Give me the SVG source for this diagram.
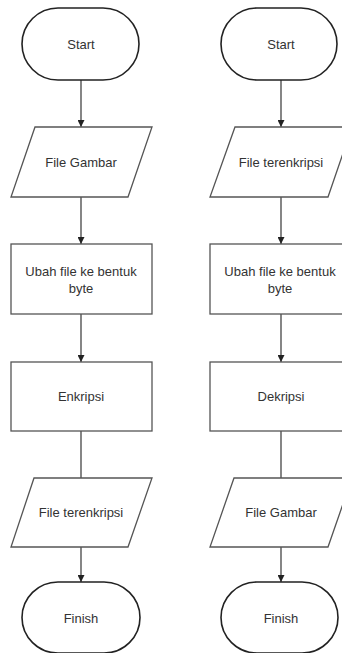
<svg xmlns="http://www.w3.org/2000/svg" width="342" height="653" viewBox="0 0 342 653">
<style>
.term{fill:#fff;stroke:#222;stroke-width:1.6}
.box{fill:#fff;stroke:#555;stroke-width:1.3}
.t{font-family:"Liberation Sans",Arial,sans-serif;font-size:13px;fill:#333;text-anchor:middle;dominant-baseline:central}
.c{stroke:#444;stroke-width:1.3;fill:none}
</style>
<defs>
<marker id="ah" viewBox="0 0 10 10" refX="10" refY="5" markerWidth="7" markerHeight="7" markerUnits="userSpaceOnUse" orient="auto">
<path d="M0,0 L10,5 L0,10 z" fill="#222"/>
</marker>
</defs>
<rect width="342" height="653" fill="#fff"/>
<g id="connectors">
<line class="c" x1="81" y1="80" x2="81" y2="127" marker-end="url(#ah)"/>
<line class="c" x1="81" y1="197" x2="81" y2="244" marker-end="url(#ah)"/>
<line class="c" x1="81" y1="314" x2="81" y2="362" marker-end="url(#ah)"/>
<line class="c" x1="81" y1="431" x2="81" y2="478"/>
<line class="c" x1="81" y1="547" x2="81" y2="582" marker-end="url(#ah)"/>
<line class="c" x1="281" y1="80" x2="281" y2="127" marker-end="url(#ah)"/>
<line class="c" x1="281" y1="197" x2="281" y2="244" marker-end="url(#ah)"/>
<line class="c" x1="281" y1="314" x2="281" y2="362" marker-end="url(#ah)"/>
<line class="c" x1="281" y1="431" x2="281" y2="478"/>
<line class="c" x1="281" y1="547" x2="281" y2="582" marker-end="url(#ah)"/>
</g>
<g id="start-left">
<rect class="term" x="22" y="8" width="117" height="72" rx="36" ry="36"/>
<text class="t" x="81" y="44">Start</text>
</g>
<g id="input-left">
<polygon class="box" points="35,127 152,127 128,197 11,197"/>
<text class="t" x="81" y="162">File Gambar</text>
</g>
<g id="process1-left">
<rect class="box" x="11" y="244" width="141" height="70"/>
<text class="t" x="81" y="271">Ubah file ke bentuk</text>
<text class="t" x="81" y="288">byte</text>
</g>
<g id="process2-left">
<rect class="box" x="11" y="362" width="141" height="69"/>
<text class="t" x="81" y="396">Enkripsi</text>
</g>
<g id="output-left">
<polygon class="box" points="34,478 152,478 128,547 11,547"/>
<text class="t" x="81" y="512">File terenkripsi</text>
</g>
<g id="finish-left">
<rect class="term" x="22" y="582" width="118" height="71" rx="36" ry="36"/>
<text class="t" x="81" y="618">Finish</text>
</g>
<g id="start-right">
<rect class="term" x="221" y="8" width="116" height="72" rx="36" ry="36"/>
<text class="t" x="281" y="44">Start</text>
</g>
<g id="input-right">
<polygon class="box" points="235,127 352,127 328,197 210,197"/>
<text class="t" x="281" y="162">File terenkripsi</text>
</g>
<g id="process1-right">
<rect class="box" x="210" y="244" width="141" height="70"/>
<text class="t" x="280" y="271">Ubah file ke bentuk</text>
<text class="t" x="280" y="288">byte</text>
</g>
<g id="process2-right">
<rect class="box" x="210" y="362" width="141" height="69"/>
<text class="t" x="281" y="396">Dekripsi</text>
</g>
<g id="output-right">
<polygon class="box" points="234,478 352,478 328,547 210,547"/>
<text class="t" x="281" y="512">File Gambar</text>
</g>
<g id="finish-right">
<rect class="term" x="221" y="582" width="117" height="71" rx="36" ry="36"/>
<text class="t" x="281" y="618">Finish</text>
</g>
</svg>
